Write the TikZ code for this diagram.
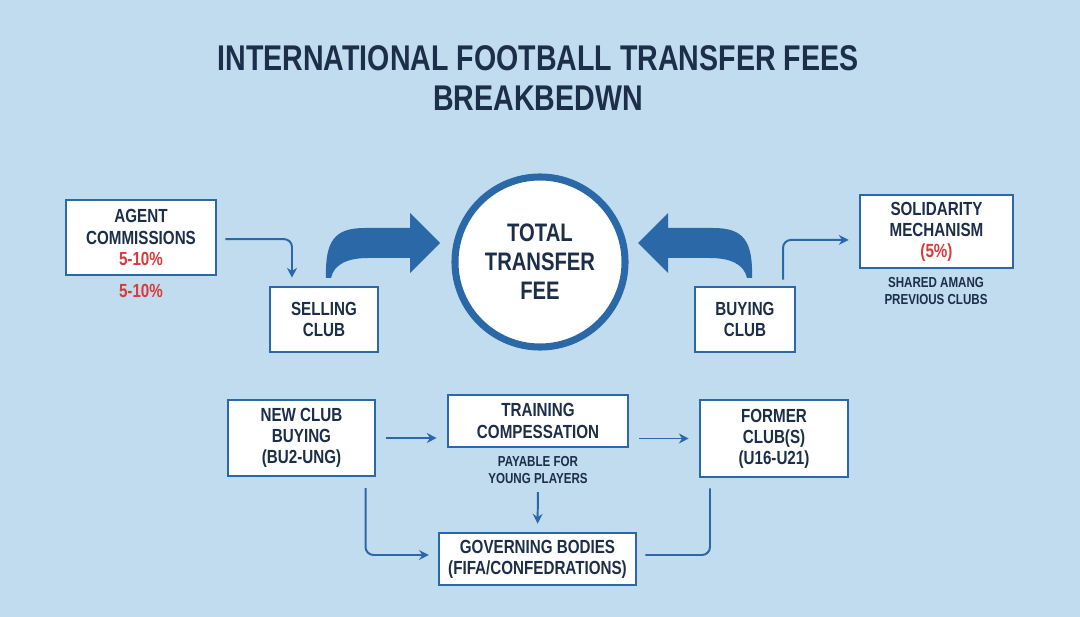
\documentclass[tikz,border=0pt]{standalone}
\usepackage{fontspec}
\setmainfont{Liberation Sans}[FakeStretch=0.8]
\usetikzlibrary{arrows.meta}
\definecolor{sfondo}{HTML}{C0DCEE}
\definecolor{navy}{HTML}{1C2E48}
\definecolor{blu}{HTML}{2A68A8}
\definecolor{rosso}{HTML}{D93A3A}
\newcommand\scatolafont{\fontsize{13.5}{15}\bfseries\selectfont}
\newcommand\notafont{\fontsize{10.3}{11.5}\bfseries\selectfont}
\tikzset{
>={Stealth[length=7pt,width=7pt]},
box node/.style={draw=blu,fill=white,line width=1.8pt,align=center,text=navy,font=\scatolafont,inner sep=0pt},
nota/.style={align=center,text=navy,font=\notafont},
freccia/.style={->,draw=blu,line width=1.4pt,rounded corners=0.2cm},
linea/.style={draw=blu,line width=1.4pt,rounded corners=0.2cm}}

\begin{document}
\begin{tikzpicture}[x=0.025cm,y=-0.025cm]

\fill[sfondo] (0,0) rectangle (1080,617);

% title
\node[text=navy,align=center,font=\fontsize{25.4}{29}\bfseries\selectfont] (titolo) at (538,78)
  {INTERNATIONAL FOOTBALL TRANSFER FEES\\BREAKBEDWN};

% top row
\node[box node,minimum width=3.75cm,minimum height=1.875cm] (agent) at (141,237.5)
  {AGENT\\COMMISSIONS\\\textcolor{rosso}{5-10\%}};
\node[text=rosso,font=\scatolafont] (quota) at (141,291) {5-10\%};
\node[box node,minimum width=2.7cm,minimum height=1.625cm] (selling) at (324,319.5) {SELLING\\CLUB};
\node[box node,minimum width=2.5cm,minimum height=1.625cm] (buying) at (745,319.5) {BUYING\\CLUB};
\node[box node,minimum width=3.825cm,minimum height=1.825cm] (solidarity) at (936.5,231.5)
  {SOLIDARITY\\MECHANISM\\\textcolor{rosso}{(5\%)}};
\node[nota] (shared) at (936,291) {SHARED AMANG\\PREVIOUS CLUBS};

\node[circle,draw=blu,fill=white,line width=5pt,minimum size=4.25cm,align=center,text=navy,
  font=\fontsize{18}{20.6}\bfseries\selectfont] (total) at (540,262) {TOTAL\\TRANSFER\\FEE};

% fat arrows into the circle
\fill[blu] (326,278) .. controls (325,240) and (335,228) .. (365,228) -- (410,228) -- (410,213)
  -- (440,243) -- (410,273) -- (410,258) -- (368,258) .. controls (348,258) and (334,264) .. (331,278) -- cycle;
\fill[blu] (752,278) .. controls (753,240) and (743,228) .. (713,228) -- (668,228) -- (668,213)
  -- (638,243) -- (668,273) -- (668,258) -- (710,258) .. controls (730,258) and (744,264) .. (747,278) -- cycle;

\draw[freccia,shorten <=0.2cm,shorten >=0.2cm] ([yshift=-0.04cm]agent.east) -| ([xshift=-0.8cm]selling.north);
\draw[freccia,shorten <=0.15cm,shorten >=0.25cm] ([xshift=0.95cm]buying.north) |- ([yshift=-0.21cm]solidarity.west);

% bottom row
\node[box node,minimum width=3.675cm,minimum height=1.9cm] (newclub) at (301.5,438)
  {NEW CLUB\\BUYING\\(BU2-UNG)};
\node[box node,minimum width=4.5cm,minimum height=1.3cm] (training) at (538,421)
  {TRAINING\\COMPESSATION};
\node[nota] (payable) at (538,470) {PAYABLE FOR\\YOUNG PLAYERS};
\node[box node,minimum width=3.7cm,minimum height=1.925cm] (former) at (774,438.5)
  {FORMER\\CLUB(S)\\(U16-U21)};
\node[box node,minimum width=4.925cm,minimum height=1.3cm] (governing) at (537.5,559)
  {GOVERNING BODIES\\(FIFA/CONFEDRATIONS)};

\draw[freccia,shorten <=0.25cm,shorten >=0.25cm] (newclub.east) -- (newclub.east -| training.west);
\draw[freccia,shorten <=0.25cm,shorten >=0.25cm] (training.east |- former.west) -- (former.west);
\draw[freccia,shorten <=0.1cm,shorten >=0.2cm] (payable.south) -- (governing.north);
\draw[freccia,shorten <=0.27cm,shorten >=0.22cm] ([xshift=1.6cm]newclub.south) |- ([yshift=0.1cm]governing.west);
\draw[linea,shorten <=0.2cm,shorten >=0.25cm] ([yshift=0.1cm]governing.east) -| ([xshift=-1.6cm]former.south);

\end{tikzpicture}
\end{document}
